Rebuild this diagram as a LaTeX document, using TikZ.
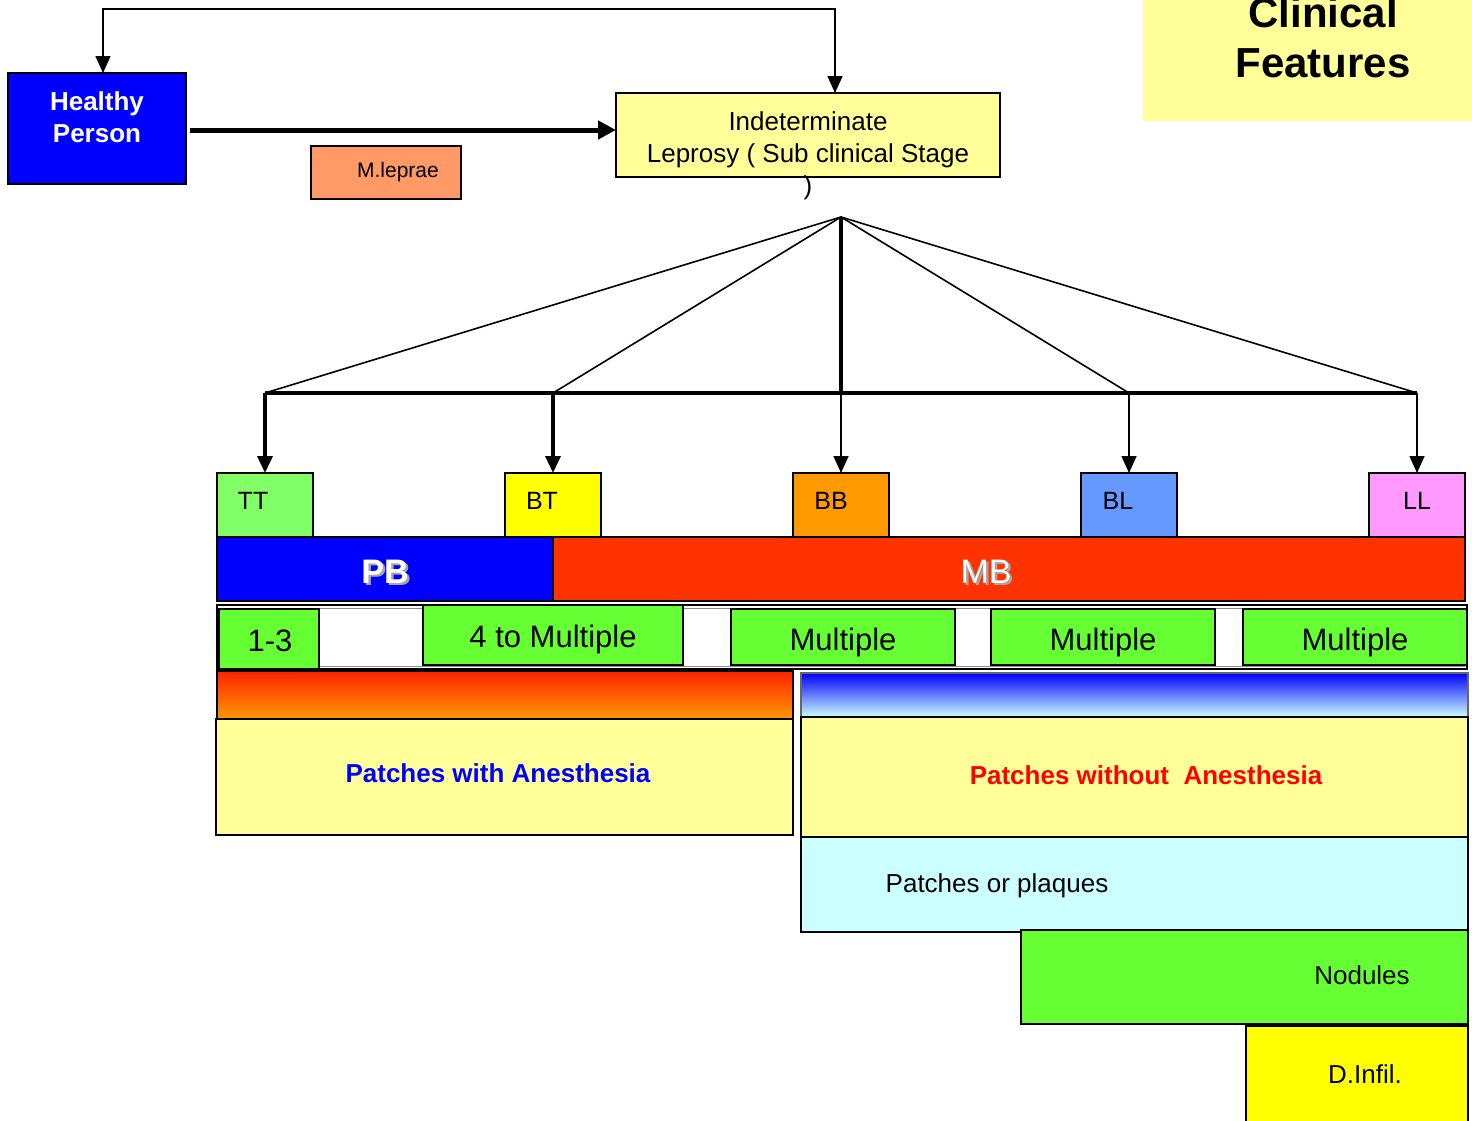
\documentclass[tikz,border=0pt]{standalone}
\usepackage{fontspec}
\setmainfont{Liberation Sans}
\usetikzlibrary{arrows.meta}

\definecolor{pureblue}{HTML}{0000FF}
\definecolor{salmon}{HTML}{FF9966}
\definecolor{paleyellow}{HTML}{FFFF99}
\definecolor{ttgreen}{HTML}{80FF66}
\definecolor{btyellow}{HTML}{FFFF00}
\definecolor{bborange}{HTML}{FF9900}
\definecolor{blblue}{HTML}{6699FF}
\definecolor{llpink}{HTML}{FF99FF}
\definecolor{mbred}{HTML}{FF3300}
\definecolor{brightgreen}{HTML}{66FF33}
\definecolor{palecyan}{HTML}{CCFFFF}
\definecolor{gradred}{HTML}{FF2200}
\definecolor{gradmid}{HTML}{9FC4FF}

\newcommand\fs[1]{\fontsize{#1}{#1}\selectfont}

\begin{document}
\begin{tikzpicture}[x=1pt,y=-1pt,
  box/.style={draw=black,line width=1.6pt,inner sep=0pt,outer sep=0pt,anchor=north west},
  lbl/.style={inner sep=0pt,anchor=base},
  thinline/.style={line width=1.6pt},
  thickline/.style={line width=3.5pt},
  tip/.style={-{Triangle[length=17pt,width=15pt]}}
]
\useasboundingbox (0,0) rectangle (1472,1120);

% ---- top row ----
\node[box,fill=pureblue,minimum width=178pt,minimum height=111pt] (healthy) at (8,73) {};
\node[lbl,white,font={\fs{26}\bfseries}] at (97,110) {Healthy};
\node[lbl,white,font={\fs{26}\bfseries}] at (97,142) {Person};

\node[box,fill=salmon,minimum width=150pt,minimum height=53pt] (mleprae) at (311,146) {};
\node[lbl,font={\fs{21}}] at (398,177) {M.leprae};

\node[box,fill=paleyellow,minimum width=384pt,minimum height=84pt] (indet) at (616,93) {};
\node[lbl,font={\fs{26}}] at (808,130) {Indeterminate};
\node[lbl,font={\fs{26}}] at (808,162) {Leprosy ( Sub clinical Stage};
\node[lbl,font={\fs{26}}] at (808,194) {)};

\node[fill=paleyellow,inner sep=0pt,outer sep=0pt,anchor=north west,
      minimum width=334pt,minimum height=126pt] (title) at (1143,-5) {};
\node[lbl,font={\fs{42}\bfseries}] at (1323,27) {Clinical};
\node[lbl,font={\fs{42}\bfseries}] at (1323,77) {Features};

% infection arrow and return loop
\draw[line width=5pt,-{Triangle[length=18pt,width=18pt]}]
  ([xshift=4pt,yshift=-1.5pt]healthy.east) -- ([yshift=5pt]indet.west);
\draw[thinline,{Triangle[length=17pt,width=15pt]}-{Triangle[length=17pt,width=15pt]}]
  ([xshift=6pt]healthy.north) -- ++(0,-64) -| ([xshift=27pt]indet.north);

% ---- spectrum boxes ----
\node[box,fill=ttgreen,minimum width=96pt,minimum height=64pt] (tt) at (217,473) {};
\node[box,fill=btyellow,minimum width=96pt,minimum height=64pt] (bt) at (505,473) {};
\node[box,fill=bborange,minimum width=96pt,minimum height=64pt] (bb) at (793,473) {};
\node[box,fill=blblue,minimum width=96pt,minimum height=64pt] (bl) at (1081,473) {};
\node[box,fill=llpink,minimum width=96pt,minimum height=64pt] (ll) at (1369,473) {};
\node[lbl,font={\fs{25}}] at (253,509) {TT};
\node[lbl,font={\fs{25}}] at (542,509) {BT};
\node[lbl,font={\fs{25}}] at (831,509) {BB};
\node[lbl,font={\fs{25}}] at (1118,509) {BL};
\node[lbl,font={\fs{25}}] at (1417,509) {LL};

% fan from the indeterminate stage
\coordinate (apex) at (841,217);
\coordinate (bus) at (0,393);
\draw[thinline] (apex) -- (tt.north |- bus);
\draw[thinline] (apex) -- (bt.north |- bus);
\draw[thinline] (apex) -- (bl.north |- bus);
\draw[thinline] (apex) -- (ll.north |- bus);
\draw[thickline] (apex) -- (bb.north |- bus);
\draw[thickline] (tt.north |- bus) -- (ll.north |- bus);
\draw[thickline,tip] (tt.north |- bus) -- (tt.north);
\draw[thickline,tip] (bt.north |- bus) -- (bt.north);
\draw[thinline,tip] (bb.north |- bus) -- (bb.north);
\draw[thinline,tip] (bl.north |- bus) -- (bl.north);
\draw[thinline,tip] (ll.north |- bus) -- (ll.north);

% ---- PB / MB ----
\node[box,fill=pureblue,minimum width=336pt,minimum height=64pt] (pb) at (217,537) {};
\node[box,fill=mbred,minimum width=912pt,minimum height=64pt] (mb) at (553,537) {};
\node[lbl,font={\fs{34}\bfseries},text=black!35] at (387.5,585.5) {PB};
\node[lbl,font={\fs{34}\bfseries},text=white] at (385,583) {PB};
\node[lbl,font={\fs{34}},text=black!35] at (988.5,585.5) {MB};
\node[lbl,font={\fs{34}},text=white] at (986,583) {MB};

% ---- number of lesions ----
\node[box,fill=white,minimum width=1250pt,minimum height=64pt] (frame) at (217,605) {};
\draw[black!45,line width=1pt] (220,608) rectangle (1464,666);
\node[box,fill=brightgreen,minimum width=100pt,minimum height=60pt] (c13) at (219,609) {};
\node[box,fill=brightgreen,minimum width=260pt,minimum height=60pt] (c4m) at (423,605) {};
\node[box,fill=brightgreen,minimum width=224pt,minimum height=56pt] (cm1) at (731,609) {};
\node[box,fill=brightgreen,minimum width=224pt,minimum height=56pt] (cm2) at (991,609) {};
\node[box,fill=brightgreen,minimum width=224pt,minimum height=56pt] (cm3) at (1243,609) {};
\node[lbl,font={\fs{31}}] at (270,651) {1-3};
\node[lbl,font={\fs{31}}] at (553,647) {4 to Multiple};
\node[lbl,font={\fs{31}}] at (843,650) {Multiple};
\node[lbl,font={\fs{31}}] at (1103,650) {Multiple};
\node[lbl,font={\fs{31}}] at (1355,650) {Multiple};

% ---- lesion types ----
\node[box,top color=gradred,bottom color=bborange,minimum width=576pt,minimum height=48pt] (gradl) at (217,671) {};
\node[box,fill=paleyellow,minimum width=577pt,minimum height=116pt] (witha) at (216,719) {};
\node[lbl,font={\fs{26}\bfseries},text=pureblue] at (498,782) {Patches with Anesthesia};

\node[box,draw=black!60,top color=pureblue,middle color=gradmid,bottom color=palecyan,minimum width=667pt,minimum height=44pt] (gradr) at (801,673) {};
\node[box,fill=paleyellow,minimum width=667pt,minimum height=120pt] (withouta) at (801,717) {};
\node[lbl,font={\fs{26}\bfseries},text=red] at (1146,784) {Patches without\ \ Anesthesia};

\node[box,fill=palecyan,minimum width=667pt,minimum height=95pt] (plaques) at (801,837) {};
\node[lbl,font={\fs{26}}] at (997,892) {Patches or plaques};

\node[box,fill=brightgreen,minimum width=447pt,minimum height=94pt] (nodules) at (1021,930) {};
\node[lbl,font={\fs{26}}] at (1362,984) {Nodules};

\node[box,fill=btyellow,minimum width=222pt,minimum height=100pt] (dinfil) at (1246,1026) {};
\node[lbl,font={\fs{26}}] at (1365,1083) {D.Infil.};
\end{tikzpicture}
\end{document}
